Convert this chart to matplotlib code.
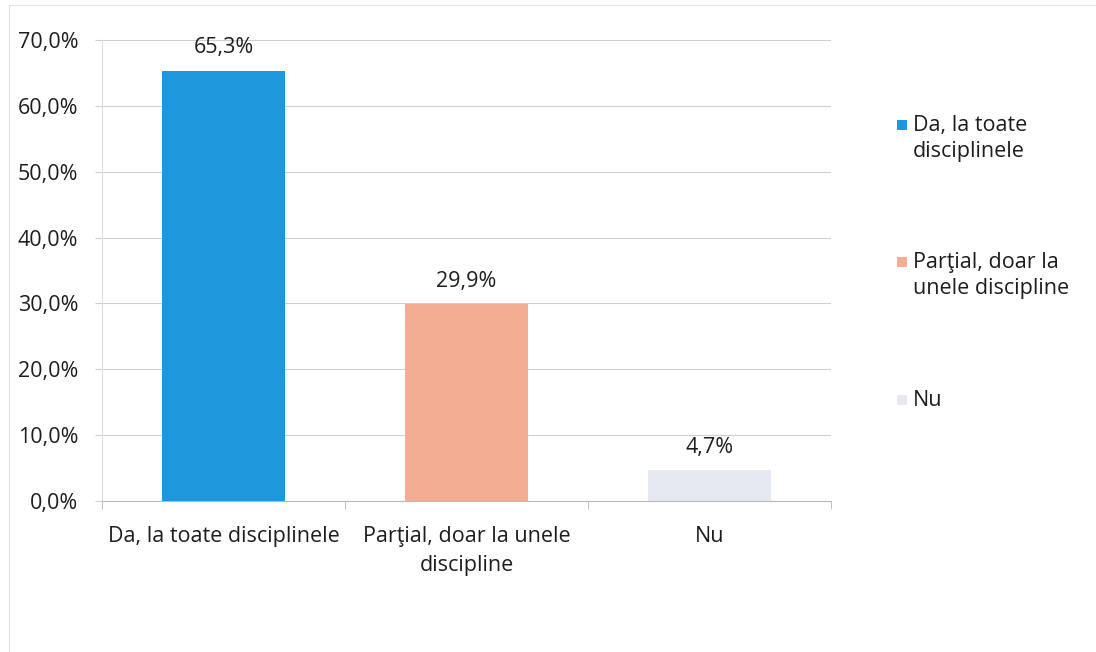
import matplotlib
matplotlib.use("Agg")
import matplotlib.pyplot as plt
from matplotlib.patches import Rectangle
from matplotlib.ticker import FuncFormatter, FixedLocator

categories = ["Da, la toate disciplinele", "Parţial, doar la unele\ndiscipline", "Nu"]
legend_labels = ["Da, la toate\ndisciplinele", "Parţial, doar la\nunele discipline", "Nu"]
values = [65.3, 29.9, 4.7]
colors = ["#1f97dc", "#f2ad93", "#e6e9f1"]

plt.rcParams['font.family'] = ['Open Sans', 'DejaVu Sans']
FS = 15.5
TC = '#1e1e1e'

fig = plt.figure(figsize=(10.96, 6.52), dpi=100)
ax = fig.add_axes([102 / 1096, 1 - 501 / 652, 729 / 1096, 461 / 652])

x = list(range(len(categories)))
bars = ax.bar(x, values, width=0.505, color=colors, zorder=3)
ax.set_xlim(-0.5, 2.5)
ax.set_ylim(0, 70)
ax.yaxis.set_major_locator(FixedLocator([0, 10, 20, 30, 40, 50, 60, 70]))
ax.yaxis.set_major_formatter(FuncFormatter(lambda v, p: f"{v:.1f}%".replace(".", ",")))
ax.grid(axis='y', color='#cfcfcf', linewidth=0.8, zorder=0)

for b, v in zip(bars, values):
    ax.annotate(f"{v:.1f}%".replace(".", ","), (b.get_x() + b.get_width() / 2, v),
                xytext=(0, 9), textcoords='offset points', ha='center', va='bottom',
                fontsize=FS, color=TC)

ax.set_xticks(x)
ax.set_xticklabels(categories, fontsize=FS, color=TC, linespacing=1.5)
ax.tick_params(axis='x', length=0, pad=18)
ax.set_xticks([-0.5, 0.5, 1.5, 2.5], minor=True)
ax.tick_params(axis='x', which='minor', length=6, color='#b8b8b8')
ax.tick_params(axis='y', labelsize=FS, labelcolor=TC, length=5, color='#cfcfcf', pad=12)

for s in ['top', 'right']:
    ax.spines[s].set_visible(False)
ax.spines['left'].set_color('#dedede')
ax.spines['bottom'].set_color('#b8b8b8')

# legend drawn as markers + text, aligned to first line of each label
leg_y = [125, 262, 400]
for lab, c, yy in zip(legend_labels, colors, leg_y):
    yf = 1 - yy / 652
    fig.add_artist(Rectangle((897 / 1096, yf - 5 / 652), 10 / 1096, 10 / 652,
                             facecolor=c, edgecolor='none', transform=fig.transFigure))
    fig.text(913 / 1096, yf + 10 / 652, lab, fontsize=FS, color=TC, va='top', ha='left',
             linespacing=1.3)

# faint outer frame
fig.add_artist(plt.Line2D([0.008, 0.008], [0.0, 0.993], color='#e2e2e2', lw=0.8))
fig.add_artist(plt.Line2D([0.008, 1.0], [0.993, 0.993], color='#e2e2e2', lw=0.8))

fig.savefig("out.png", dpi=100)
